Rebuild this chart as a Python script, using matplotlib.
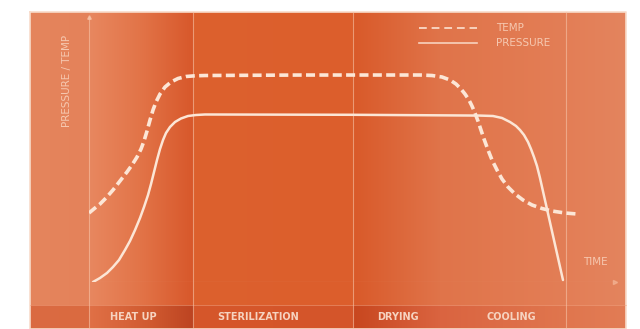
import numpy as np
import matplotlib.pyplot as plt
from matplotlib.colors import to_rgb

# data (time 0-100, value 0-100)
temp_t = [0, 1.14, 2.09, 3.23, 4.56, 5.89, 7.22, 8.17, 9.13, 9.89, 10.46, 11.03,
          11.60, 12.17, 12.74, 13.50, 14.45, 15.59, 16.92, 18.44, 20.15, 22.05, 40.0,
          62.93, 65.21, 67.11, 68.63, 69.77, 70.72, 71.48, 72.24, 72.81, 73.38, 73.95,
          74.52, 75.10, 75.86, 76.62, 77.57, 78.52, 79.66, 80.99, 82.51, 84.22, 86.12,
          88.02, 90.49, 92.78]
temp_v = [26.04, 27.92, 29.43, 31.70, 34.72, 38.11, 41.51, 44.15, 47.17, 50.19, 53.21,
          56.98, 61.13, 64.91, 67.92, 70.94, 73.58, 75.47, 76.79, 77.55, 77.81, 77.92, 78.1,
          78.11, 77.92, 77.36, 76.23, 74.72, 72.83, 70.94, 68.68, 66.42, 63.77, 60.75,
          57.36, 53.96, 49.81, 46.04, 42.26, 38.87, 35.85, 33.21, 30.94, 29.06, 27.74,
          26.79, 26.04, 25.66]
pres_t = [0.76, 2.09, 3.42, 4.56, 5.70, 6.84, 7.79, 8.75, 9.70, 10.46, 11.22, 11.79,
          12.36, 12.93, 13.50, 14.07, 14.64, 15.40, 16.35, 17.49, 18.82, 20.34, 22.05,
          50.0, 74.3, 76.81, 78.52, 80.04, 81.18, 81.94, 82.70, 83.46, 84.03, 84.60,
          85.17, 85.74, 90.11]
pres_v = [0, 1.51, 3.40, 5.66, 8.30, 12.08, 15.47, 19.62, 24.15, 28.30, 32.83, 36.98,
          41.51, 46.04, 50.19, 53.58, 56.23, 58.49, 60.38, 61.70, 62.64, 63.02, 63.21,
          63.1, 62.8, 62.64, 61.89, 60.38, 58.87, 57.36, 55.47, 52.83, 50.19, 47.17,
          43.77, 39.25, 0.75]

phase_edges = [0, 19.8, 50.2, 90.7]
phase_labels = ["HEAT UP", "STERILIZATION", "DRYING", "COOLING"]
label_x = [133, 258, 398, 511]

W, H = 640, 329
fig = plt.figure(figsize=(6.4, 3.29), dpi=100)
fig.patch.set_facecolor("white")

bg = fig.add_axes([0, 0, 1, 1])
bg.set_xlim(0, W)
bg.set_ylim(H, 0)
bg.axis("off")

# column colours for the panel (x pixel, colour)
top_stops = [(30, "#E5855D"), (88, "#E4825A"), (90, "#E8875F"), (140, "#E27448"),
             (192, "#D8582B"), (194, "#DD612E"), (352, "#DC5E2C"), (354, "#D95A2A"),
             (440, "#E0744A"), (565, "#E37E56"), (625, "#E4845E")]
bot_stops = [(30, "#DB6B42"), (88, "#DA6A40"), (90, "#E07046"), (150, "#D05A30"),
             (192, "#BD4422"), (194, "#D6572B"), (352, "#D4552A"), (354, "#C8471F"),
             (440, "#DA6440"), (565, "#E0764E"), (625, "#E27C55")]


def column_colours(stops):
    xs = np.arange(30, 626)
    px = [s[0] for s in stops]
    cols = np.array([to_rgb(s[1]) for s in stops])
    return np.stack([np.interp(xs, px, cols[:, k]) for k in range(3)], axis=1)


top = column_colours(top_stops)[None, :, :]
bot = column_colours(bot_stops)[None, :, :]
bg.imshow(top, extent=(30, 626, 305, 12), aspect="auto", interpolation="bilinear", zorder=0)
bg.imshow(bot, extent=(30, 626, 329, 305), aspect="auto", interpolation="bilinear", zorder=0)
bg.plot([30, 626, 626, 30, 30], [12, 12, 329, 329, 12], color="#F8DCCB", lw=1.2, zorder=1)
bg.plot([30, 626], [305, 305], color="#F2A583", lw=0.6, alpha=0.6, zorder=1)

ax = fig.add_axes([89 / W, (H - 282) / H, (615 - 89) / W, (282 - 17) / H])
ax.set_xlim(0, 100)
ax.set_ylim(0, 100)
ax.patch.set_alpha(0)
for s in ax.spines.values():
    s.set_visible(False)
ax.set_xticks([])
ax.set_yticks([])

for e in phase_edges:
    top_y = 1.0 if e == 0 else 1.02
    ax.axvline(e, ymin=-0.18, ymax=top_y, color="#F7C4A8", lw=0.8, alpha=0.6, clip_on=False)
ax.axhline(0, xmin=0, xmax=1, color="#F3B394", lw=0.8, alpha=0.7)
ax.plot([100], [0], marker=">", ms=3, color="#F3B394", alpha=0.7, clip_on=False)
ax.plot([0], [100], marker="^", ms=2.5, color="#F7C4A8", alpha=0.8, clip_on=False)

line_col = "#FCE6D6"
ax.plot(temp_t, temp_v, color=line_col, lw=2.6, dashes=(2.5, 1.2), solid_capstyle="butt",
        solid_joinstyle="round", label="TEMP", zorder=3)
ax.plot(pres_t, pres_v, color=line_col, lw=1.8, solid_joinstyle="round",
        solid_capstyle="round", label="PRESSURE", zorder=3)

# legend
txt_col = "#F6C8B0"
bg.plot([419, 477], [28, 28], color="#F8D2BE", lw=1.4, dashes=(4, 2.5))
bg.plot([419, 477], [43, 43], color="#F8D2BE", lw=1.2)
bg.text(496, 28, "TEMP", color=txt_col, fontsize=7.5, va="center", ha="left")
bg.text(496, 43, "PRESSURE", color=txt_col, fontsize=7.5, va="center", ha="left")

bg.text(67, 81, "PRESSURE / TEMP", color=txt_col, fontsize=7.5, rotation=90,
        va="center", ha="center")
bg.text(595, 262, "TIME", color=txt_col, fontsize=7.5, va="center", ha="center")

for lab, x in zip(phase_labels, label_x):
    bg.text(x, 317, lab, color="#F6D3C0", fontsize=7, fontweight="bold",
            va="center", ha="center")

fig.savefig("out.png", dpi=100, facecolor="white")
